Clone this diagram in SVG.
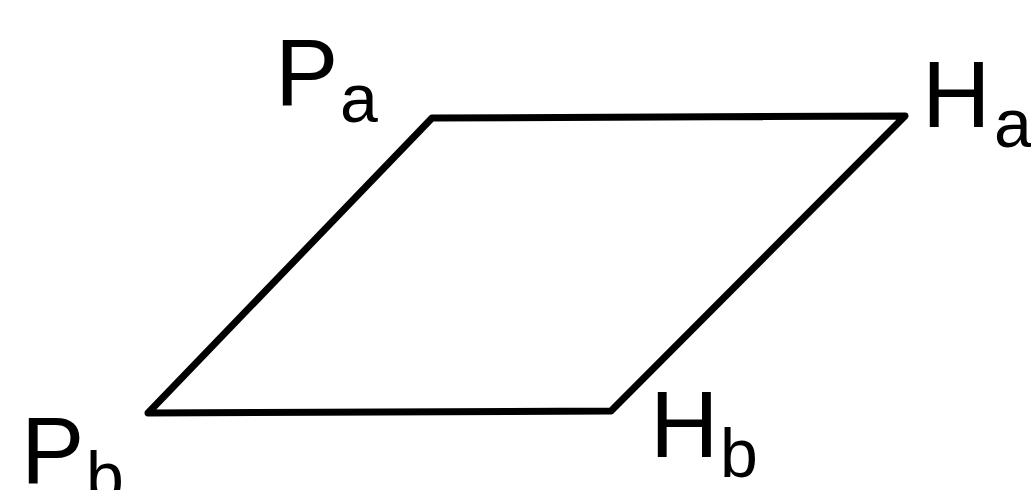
<svg xmlns="http://www.w3.org/2000/svg" width="1031" height="490" viewBox="0 0 1031 490">
<style>
.lbl{font-family:"Liberation Sans",Arial,sans-serif;fill:#000;font-size:95px}
.sub{font-size:68px}
.edge{fill:none;stroke:#000;stroke-width:7;stroke-linejoin:round;stroke-linecap:round}
</style>
<rect width="1031" height="490" fill="#fff"/>
<g id="connectors">
<polygon class="edge" points="432,118 905,116 611,411 148,413"/>
</g>
<g id="Pa"><text class="lbl" x="275" y="105">P</text><text class="lbl sub" x="340" y="122">a</text></g>
<g id="Ha"><text class="lbl" x="922" y="127">H</text><text class="lbl sub" x="994" y="147">a</text></g>
<g id="Hb"><text class="lbl" x="650" y="457">H</text><text class="lbl sub" x="720" y="477">b</text></g>
<g id="Pb"><text class="lbl" x="21" y="483">P</text><text class="lbl sub" x="86" y="500">b</text></g>
</svg>
